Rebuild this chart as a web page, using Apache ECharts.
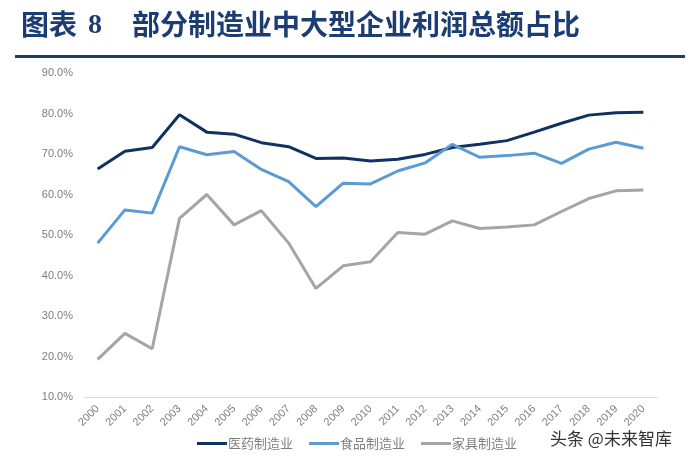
<!DOCTYPE html>
<html><head><meta charset="utf-8">
<script src="https://cdn.jsdelivr.net/npm/echarts@6/dist/echarts.min.js"></script>
<style>html,body{margin:0;padding:0;background:#fff}#c{width:691px;height:475px}</style>
</head><body><div id="c"></div>
<script>
const years = ['2000','2001','2002','2003','2004','2005','2006','2007','2008','2009','2010','2011','2012','2013','2014','2015','2016','2017','2018','2019','2020'];
const pharma = [66.3,70.7,71.6,79.7,75.4,74.9,72.8,71.8,68.9,69.0,68.3,68.7,69.9,71.6,72.4,73.3,75.4,77.6,79.6,80.2,80.3];
const food = [48.0,56.2,55.4,71.8,69.8,70.6,66.2,63.2,57.0,62.8,62.6,65.8,67.8,72.4,69.2,69.6,70.2,67.7,71.2,72.9,71.4];
const furniture = [19.3,25.7,21.9,54.1,60.0,52.5,56.0,48.0,36.8,42.4,43.4,50.6,50.2,53.5,51.6,52.0,52.5,55.8,59.0,60.9,61.1];
const seriesNames = ['医药制造业','食品制造业','家具制造业'];
const titleLead = '图表';
const titleNum = '8';
const titleMain = '部分制造业中大型企业利润总额占比';
const watermark = '头条 @未来智库';

const chart = echarts.init(document.getElementById('c'));
const colors = ['#0f3261','#5b9bd5','#a5a5a5'];
chart.setOption({
  animation:false,
  backgroundColor:'#fff',
  color: colors,
  grid:{left:84, top:73, width:573, height:324},
  xAxis:{type:'category', data:years, boundaryGap:true,
    axisLine:{lineStyle:{color:'#d9d9d9', width:1}}, axisTick:{show:false},
    axisLabel:{rotate:45, color:'#7f7f7f', fontSize:11, fontFamily:'Liberation Sans', margin:10, interval:0}},
  yAxis:{type:'value', min:10, max:90, interval:10,
    axisLine:{show:false}, axisTick:{show:false}, splitLine:{show:false},
    axisLabel:{color:'#7f7f7f', fontSize:11, fontFamily:'Liberation Sans', margin:11, formatter:v=>v.toFixed(1)+'%'}},
  legend:{top:432, left:192, itemWidth:30, itemHeight:3, itemGap:16,
    icon:'rect', textStyle:{color:'#7f7f7f', fontSize:13, fontFamily:'Noto Sans CJK SC', padding:[0,0,0,-4]}, itemStyle:{borderWidth:0},
    data:seriesNames},
  series:[
    {name:seriesNames[0], type:'line', data:pharma, symbol:'none', lineStyle:{width:3}},
    {name:seriesNames[1], type:'line', data:food, symbol:'none', lineStyle:{width:3}},
    {name:seriesNames[2], type:'line', data:furniture, symbol:'none', lineStyle:{width:3}}
  ],
  graphic:[
    {type:'text', left:21, top:10, style:{text:titleLead, fontSize:28, fontWeight:'bold', fontFamily:'Noto Sans CJK SC', fill:'#1c3d73'}},
    {type:'text', left:88, top:12, style:{text:titleNum, fontSize:28, fontWeight:'bold', fontFamily:'Liberation Serif', fill:'#1c3d73'}},
    {type:'text', left:132, top:10, style:{text:titleMain, fontSize:28, fontWeight:'bold', fontFamily:'Noto Sans CJK SC', fill:'#1c3d73'}},
    {type:'rect', shape:{x:15, y:55, width:670, height:3}, style:{fill:'#1c3d73'}},
    {type:'text', left:550, top:430, style:{text:watermark, fontSize:17, fontFamily:'Noto Sans CJK SC', fill:'#333'}}
  ]
});
</script></body></html>
